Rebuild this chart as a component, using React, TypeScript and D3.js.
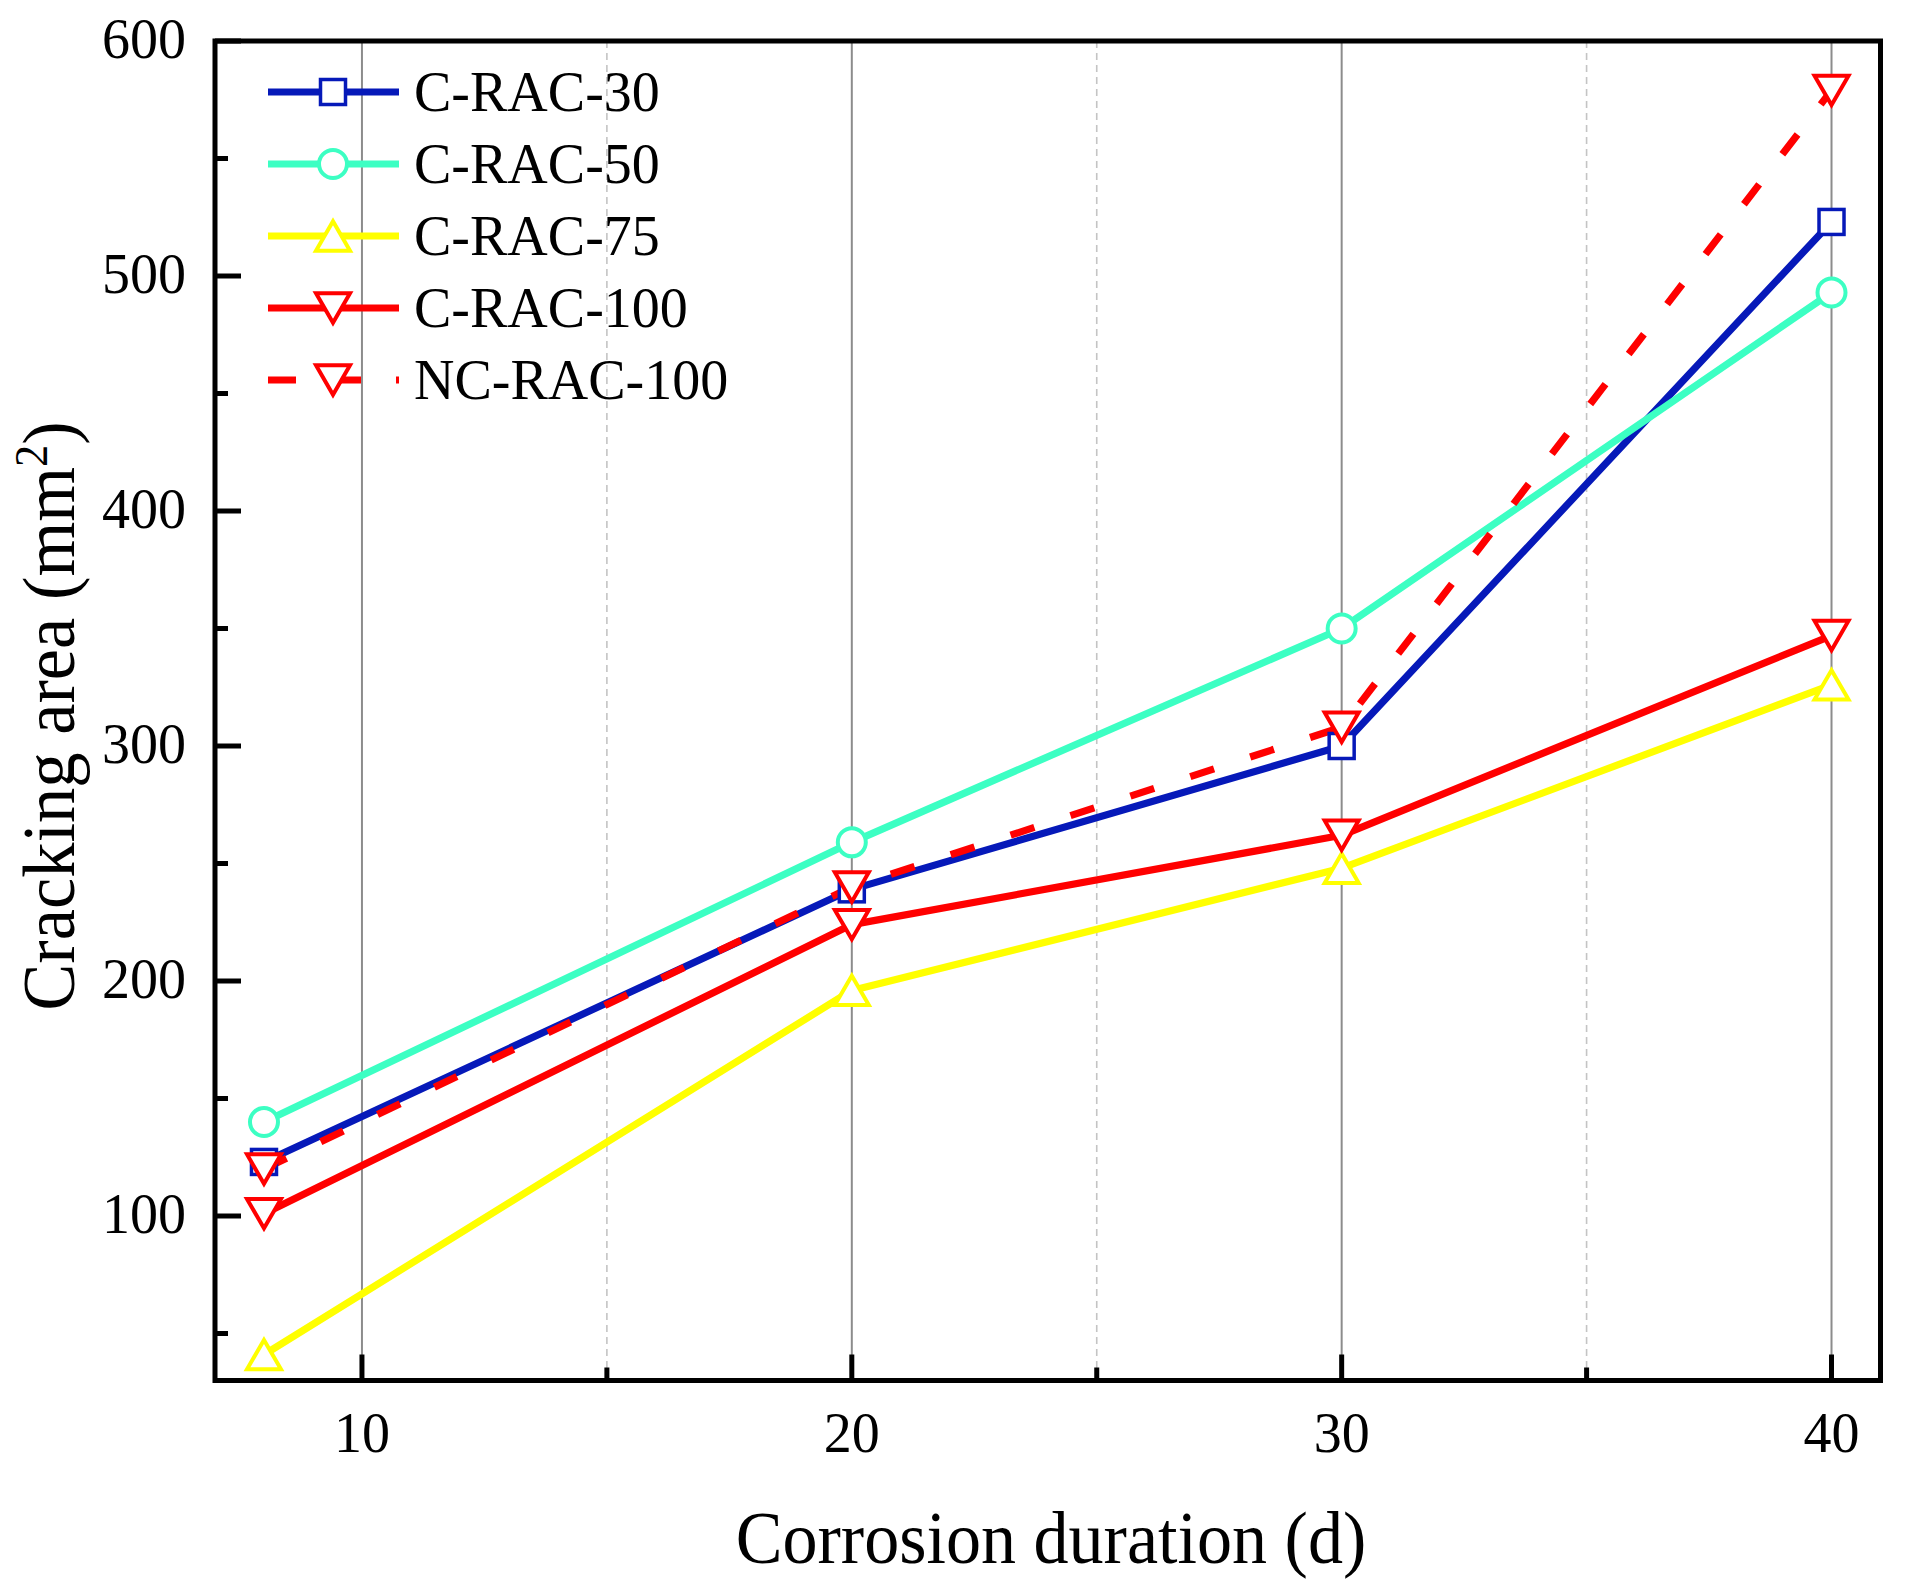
import React from "react";
import * as d3 from "d3";

const days = [8, 20, 30, 40];
const seriesNames = ["C-RAC-30", "C-RAC-50", "C-RAC-75", "C-RAC-100", "NC-RAC-100"];
const cRac30 = [123, 239, 300, 523];
const cRac50 = [140, 259, 350, 493];
const cRac75 = [41, 196, 248, 326];
const cRac100 = [101, 224, 262, 347];
const ncRac100 = [120, 240, 308, 579];
const xMajorTicks = [10, 20, 30, 40];
const xMinorTicks = [15, 25, 35];
const yMajorTicks = [100, 200, 300, 400, 500, 600];
const yMinorTicks = [50, 150, 250, 350, 450, 550];

const colors = ["#0619B9", "#3CFFC3", "#FFFF00", "#FF0000", "#FF0000"];
const shapes = ["square", "circle", "up", "down", "down"];
const dashed = [false, false, false, false, true];
const allValues = [cRac30, cRac50, cRac75, cRac100, ncRac100];

const W = 1905;
const H = 1593;
const L = 215, R = 1880.5, T = 41, B = 1380.5;
const FONT = "'Liberation Serif', 'Times New Roman', serif";
const LW = 7.2;

function Marker({ shape, cx, cy, color }: { shape: string; cx: number; cy: number; color: string }) {
  const sw = 4;
  if (shape === "square") {
    const s = 25;
    return <rect x={cx - s / 2} y={cy - s / 2} width={s} height={s} fill="#fff" stroke={color} strokeWidth={3.5} />;
  }
  if (shape === "circle") {
    return <circle cx={cx} cy={cy} r={14} fill="#fff" stroke={color} strokeWidth={sw} />;
  }
  const side = 34;
  const h = side * Math.sqrt(3) / 2;
  let pts: [number, number][];
  if (shape === "up") {
    pts = [[cx, cy - h / 2], [cx + side / 2, cy + h / 2], [cx - side / 2, cy + h / 2]];
  } else {
    pts = [[cx - side / 2, cy - h / 2], [cx + side / 2, cy - h / 2], [cx, cy + h / 2]];
  }
  return <polygon points={pts.map(p => p.join(",")).join(" ")} fill="#fff" stroke={color} strokeWidth={sw} strokeLinejoin="miter" />;
}

export default function App() {
  const x = d3.scaleLinear().domain([7, 41]).range([L, R]);
  const y = d3.scaleLinear().domain([30, 600]).range([B, T]);
  const line = d3.line<[number, number]>().x(d => x(d[0])).y(d => y(d[1]));

  const legendX0 = 268, legendX1 = 399, legendMx = 333, legendTextX = 414;
  const legendY = (i: number) => 92 + i * 72;

  return (
    <div style={{ position: "absolute", left: 0, top: 0 }}>
      <svg width={W} height={H} viewBox={`0 0 ${W} ${H}`} style={{ display: "block", background: "#fff" }}>
        <rect x={0} y={0} width={W} height={H} fill="#fff" />
        {/* grid lines */}
        {xMajorTicks.map(t => (
          <line key={"g" + t} x1={x(t)} x2={x(t)} y1={T} y2={B} stroke="#8c8c8c" strokeWidth={2} />
        ))}
        {xMinorTicks.map(t => (
          <line key={"gm" + t} x1={x(t)} x2={x(t)} y1={T} y2={B} stroke="#c4c4c4" strokeWidth={1.6} strokeDasharray="7,5" />
        ))}

        {/* series lines */}
        {allValues.map((vals, i) => (
          <path
            key={"l" + i}
            d={line(days.map((d, j) => [d, vals[j]] as [number, number])) || ""}
            fill="none"
            stroke={colors[i]}
            strokeWidth={LW}
            strokeLinejoin="round"
            strokeDasharray={dashed[i] ? "25,38" : undefined}
          />
        ))}
        {/* markers */}
        {allValues.map((vals, i) => (
          <g key={"m" + i}>
            {days.map((d, j) => (
              <Marker key={j} shape={shapes[i]} cx={x(d)} cy={y(vals[j])} color={colors[i]} />
            ))}
          </g>
        ))}

        {/* ticks */}
        {xMajorTicks.map(t => (
          <line key={"xt" + t} x1={x(t)} x2={x(t)} y1={B} y2={B - 26} stroke="#000" strokeWidth={5} />
        ))}
        {xMinorTicks.map(t => (
          <line key={"xm" + t} x1={x(t)} x2={x(t)} y1={B} y2={B - 13} stroke="#000" strokeWidth={5} />
        ))}
        {yMajorTicks.map(t => (
          <line key={"yt" + t} x1={L} x2={L + 26} y1={y(t)} y2={y(t)} stroke="#000" strokeWidth={5} />
        ))}
        {yMinorTicks.map(t => (
          <line key={"ym" + t} x1={L} x2={L + 13} y1={y(t)} y2={y(t)} stroke="#000" strokeWidth={5} />
        ))}

        {/* frame */}
        <rect x={L} y={T} width={R - L} height={B - T} fill="none" stroke="#000" strokeWidth={5} />

        {/* tick labels */}
        {xMajorTicks.map(t => (
          <text key={"xl" + t} x={x(t)} y={1452} textAnchor="middle" fontFamily={FONT} fontSize={56} fill="#000">{t}</text>
        ))}
        {yMajorTicks.map(t => (
          <text key={"yl" + t} x={186} y={y(t) + 17} textAnchor="end" fontFamily={FONT} fontSize={56} fill="#000">{t}</text>
        ))}

        {/* axis titles */}
        <g transform={`translate(1051,1563) scale(0.96,1)`}>
          <text x={0} y={0} textAnchor="middle" fontFamily={FONT} fontSize={73} fill="#000">Corrosion duration (d)</text>
        </g>
        <g transform={`translate(74,716) rotate(-90) scale(0.965,1)`}>
          <text x={0} y={0} textAnchor="middle" fontFamily={FONT} fontSize={73} fill="#000">
            Cracking area (mm<tspan fontSize={46} dy={-27}>2</tspan><tspan dy={27}>)</tspan>
          </text>
        </g>

        {/* legend */}
        {seriesNames.map((name, i) => (
          <g key={"lg" + i}>
            {dashed[i] ? (
              <>
                <line x1={legendX0} x2={legendMx} y1={legendY(i)} y2={legendY(i)} stroke={colors[i]} strokeWidth={LW} strokeDasharray="28,35" />
                <line x1={legendMx} x2={legendX1} y1={legendY(i)} y2={legendY(i)} stroke={colors[i]} strokeWidth={LW} strokeDasharray="28,35" />
              </>
            ) : (
              <line x1={legendX0} x2={legendX1} y1={legendY(i)} y2={legendY(i)} stroke={colors[i]} strokeWidth={LW} />
            )}
            <Marker shape={shapes[i]} cx={legendMx} cy={legendY(i)} color={colors[i]} />
            <text x={legendTextX} y={legendY(i) + 19} fontFamily={FONT} fontSize={56} fill="#000">{name}</text>
          </g>
        ))}
      </svg>
    </div>
  );
}
